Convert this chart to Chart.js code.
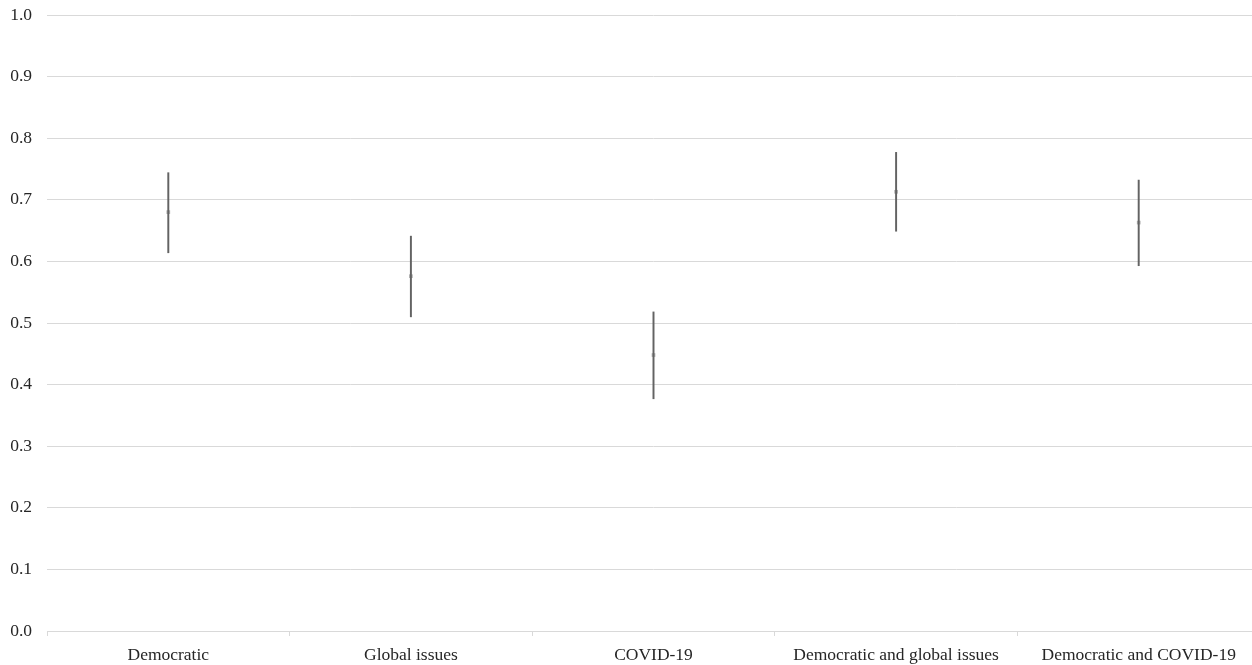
<!DOCTYPE html>
<html lang="en">
<head>
    <meta charset="UTF-8">
    <title>Intervals by group</title>
    <script src="https://cdn.jsdelivr.net/npm/chart.js"></script>
    <style>
        html, body { margin: 0; padding: 0; background: #fff; overflow: hidden; }
        .box { position: relative; width: 1264px; height: 665px; }
    </style>
</head>
<body>
    <div class="box">
        <canvas id="chart"></canvas>
    </div>

    <script>
        // categories and values
        const categories = ['Democratic', 'Global issues', 'COVID-19', 'Democratic and global issues', 'Democratic and COVID-19'];
        const means = [0.680, 0.576, 0.448, 0.713, 0.663];
        const lower = [0.614, 0.510, 0.377, 0.649, 0.593];
        const upper = [0.744, 0.641, 0.518, 0.777, 0.732];
        const yTicks = [0, 0.1, 0.2, 0.3, 0.4, 0.5, 0.6, 0.7, 0.8, 0.9, 1.0];

        const ranges = lower.map((lo, i) => [lo, upper[i]]);
        const font = { family: '"Liberation Serif", "Times New Roman", serif', size: 17.5 };

        new Chart(document.getElementById('chart'), {
            data: {
                labels: categories,
                datasets: [{
                    type: 'bar',
                    data: ranges,
                    backgroundColor: '#636363',
                    barThickness: 1.3,
                    order: 0
                }, {
                    type: 'line',
                    data: means,
                    showLine: false,
                    pointStyle: 'rect',
                    pointRadius: 2.6,
                    pointBackgroundColor: '#b0b0b0',
                    pointBorderWidth: 0,
                    order: 1
                }]
            },
            options: {
                responsive: true,
                maintainAspectRatio: false,
                animation: false,
                layout: { padding: { left: 9, top: 15, right: 0, bottom: 0 } },
                plugins: { legend: { display: false }, tooltip: { enabled: false } },
                scales: {
                    x: {
                        offset: true,
                        afterFit: axis => {
                            axis.height = 34;
                            axis.paddingLeft = 0;
                            axis.paddingRight = 0;
                        },
                        grid: {
                            offset: true,
                            drawOnChartArea: false,
                            drawTicks: true,
                            tickLength: 5,
                            color: '#d9d9d9'
                        },
                        border: { color: '#d9d9d9' },
                        ticks: { font: font, color: '#262626', padding: 9, maxRotation: 0, autoSkip: false }
                    },
                    y: {
                        min: 0,
                        max: 1,
                        afterFit: axis => {
                            axis.width = 38;
                            axis.paddingTop = 0;
                            axis.paddingBottom = 0;
                        },
                        afterBuildTicks: axis => { axis.ticks = yTicks.map(v => ({ value: v })); },
                        grid: { color: '#d9d9d9', drawTicks: false },
                        border: { display: false },
                        ticks: {
                            font: font,
                            color: '#262626',
                            padding: 15,
                            callback: v => v.toFixed(1)
                        }
                    }
                }
            }
        });
    </script>
</body>
</html>
